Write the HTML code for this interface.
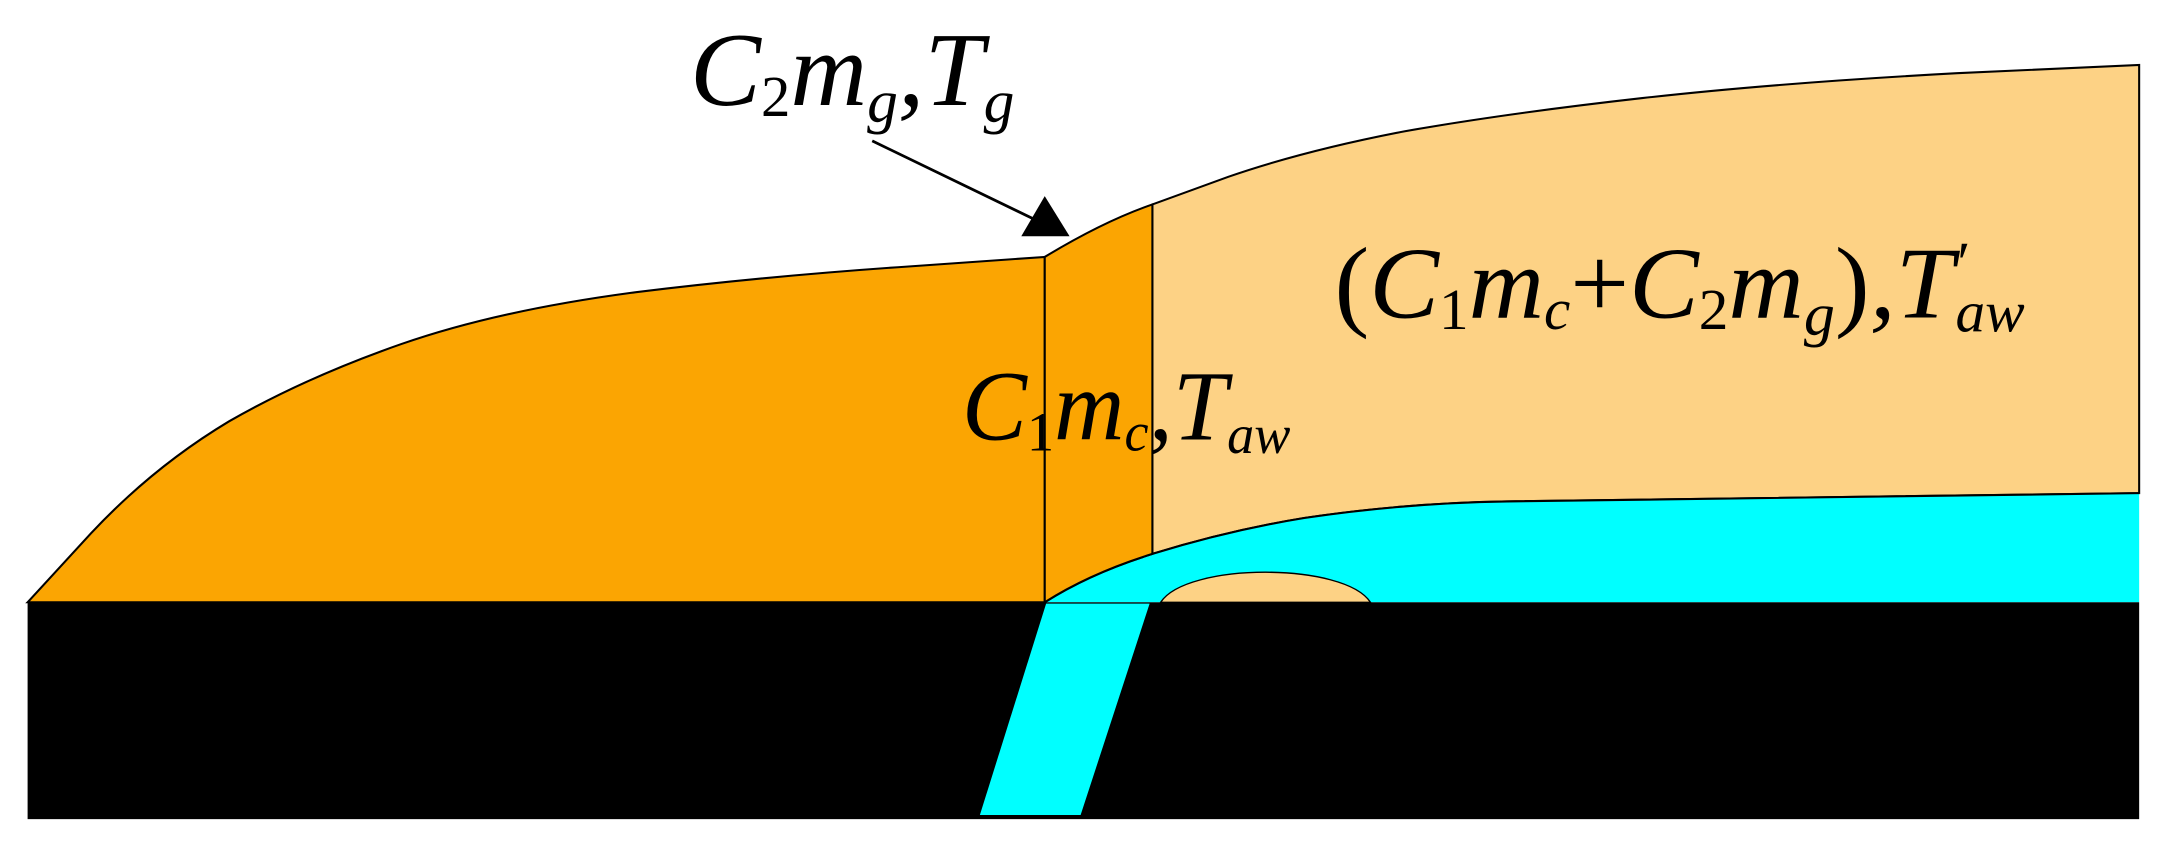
<!DOCTYPE html>
<html><head><meta charset="utf-8"><style>
html,body{margin:0;padding:0;background:#fff;}
svg{display:block}
text{font-family:"Liberation Serif",serif;font-style:italic;fill:#000}
</style></head><body>
<svg width="2164" height="844" viewBox="0 0 1568 611" preserveAspectRatio="none" xmlns="http://www.w3.org/2000/svg">
<path d="M835,148 L890,128 Q945,109 1018,95 Q1092,82 1190,71 Q1288,60 1418,53 L1550,47 L1550,357 L1092,363 Q1020,364 945,375 Q890,384 835,401 Z" fill="#fdd285" stroke="#000" stroke-width="1.5"/>
<path d="M757,436 Q790,415 835,401 Q890,384 945,375 Q1020,364 1092,363 L1550,357 L1550,436 Z" fill="#00ffff"/>
<path d="M757,436 Q790,415 835,401 Q890,384 945,375 Q1020,364 1092,363 L1550,357" fill="none" stroke="#000" stroke-width="1.5"/>
<path d="M20,436 L66,386 Q111,338 166,305 Q222,273 291,249 Q360,225 457,212 Q554,200 657,193 L757,186 L757,436 Z" fill="#fba502" stroke="#000" stroke-width="1.5"/>
<path d="M757,186 Q800,160 835,148 L835,401 Q790,415 757,436 Z" fill="#fba502" stroke="#000" stroke-width="1.5"/>
<path d="M841,436 C860,407 974,407 993,436 Z" fill="#fdd285" stroke="#000" stroke-width="1"/>
<rect x="20" y="436" width="1530" height="157" fill="#000"/>
<path d="M758,437 L833,437 L783,590 L710,590 Z" fill="#00ffff"/>
<line x1="632" y1="102" x2="752" y2="160" stroke="#000" stroke-width="2"/>
<path d="M775,171 L740,171 L757,142 Z" fill="#000"/>
<text x="500" y="76" font-size="76" textLength="235" lengthAdjust="spacingAndGlyphs">C<tspan font-style="normal" font-size="42" dy="8">2</tspan><tspan dy="-8">m</tspan><tspan font-size="44" dy="12">g</tspan><tspan dy="-12">,T</tspan><tspan font-size="44" dy="12">g</tspan></text>
<text x="967" y="230" font-size="74" textLength="500" lengthAdjust="spacingAndGlyphs"><tspan font-style="normal">(</tspan>C<tspan font-style="normal" font-size="42" dy="8">1</tspan><tspan dy="-8">m</tspan><tspan font-size="42" dy="8">c</tspan><tspan dy="-8" font-style="normal">+</tspan>C<tspan font-style="normal" font-size="42" dy="8">2</tspan><tspan dy="-8">m</tspan><tspan font-size="44" dy="12">g</tspan><tspan dy="-12" font-style="normal">)</tspan>,T<tspan font-size="42" dy="-26">′</tspan><tspan font-size="42" dx="-8" dy="36">aw</tspan></text>
<text x="697" y="318" font-size="72" textLength="238" lengthAdjust="spacingAndGlyphs">C<tspan font-style="normal" font-size="40" dy="8">1</tspan><tspan dy="-8">m</tspan><tspan font-size="40" dy="8">c</tspan><tspan dy="-8">,T</tspan><tspan font-size="40" dy="10">aw</tspan></text>
</svg>
</body></html>
